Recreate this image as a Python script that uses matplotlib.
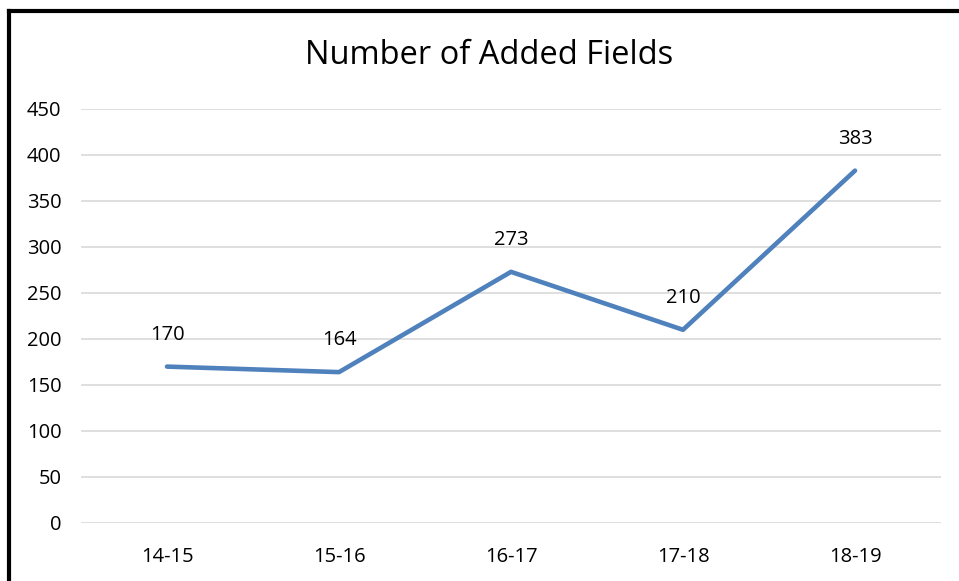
import matplotlib.pyplot as plt
from matplotlib.lines import Line2D

seasons = ['14-15', '15-16', '16-17', '17-18', '18-19']
added = [170, 164, 273, 210, 383]

plt.rcParams['font.family'] = ['Open Sans', 'DejaVu Sans']

fig = plt.figure(figsize=(9.59, 5.81), dpi=100)
ax = fig.add_axes([81 / 959, 58 / 581, 860 / 959, 414 / 581])

x = range(len(seasons))
ax.plot(x, added, color='#4F81BD', linewidth=3.3, solid_capstyle='round',
        solid_joinstyle='round', zorder=3)
for i, v in zip(x, added):
    ax.annotate(str(v), (i, v), xytext=(0, 23), textcoords='offset points',
                ha='center', va='center', fontsize=14.5, color='#000000')

ax.set_xlim(-0.5, len(seasons) - 0.5)
ax.set_ylim(0, 450)
ax.set_yticks(range(0, 451, 50))
ax.set_xticks(list(x))
ax.set_xticklabels(seasons)
ax.grid(axis='y', color='#D9D9D9', linewidth=1.2)
ax.set_axisbelow(True)
for s in ax.spines.values():
    s.set_visible(False)
ax.tick_params(length=0, labelsize=14.5, colors='#000000')
ax.tick_params(axis='y', pad=14)
ax.tick_params(axis='x', pad=17)

fig.text(489 / 959, 1 - 56 / 581, 'Number of Added Fields', ha='center', va='center',
         fontsize=23.5, color='#000000')

# black frame on top and left edges
fig.add_artist(Line2D([9 / 959, 1], [1 - 10.5 / 581, 1 - 10.5 / 581], color='black',
                      linewidth=3, transform=fig.transFigure))
fig.add_artist(Line2D([9 / 959, 9 / 959], [0, 1 - 10.5 / 581], color='black',
                      linewidth=3, transform=fig.transFigure))

fig.savefig('out.png', dpi=100)
